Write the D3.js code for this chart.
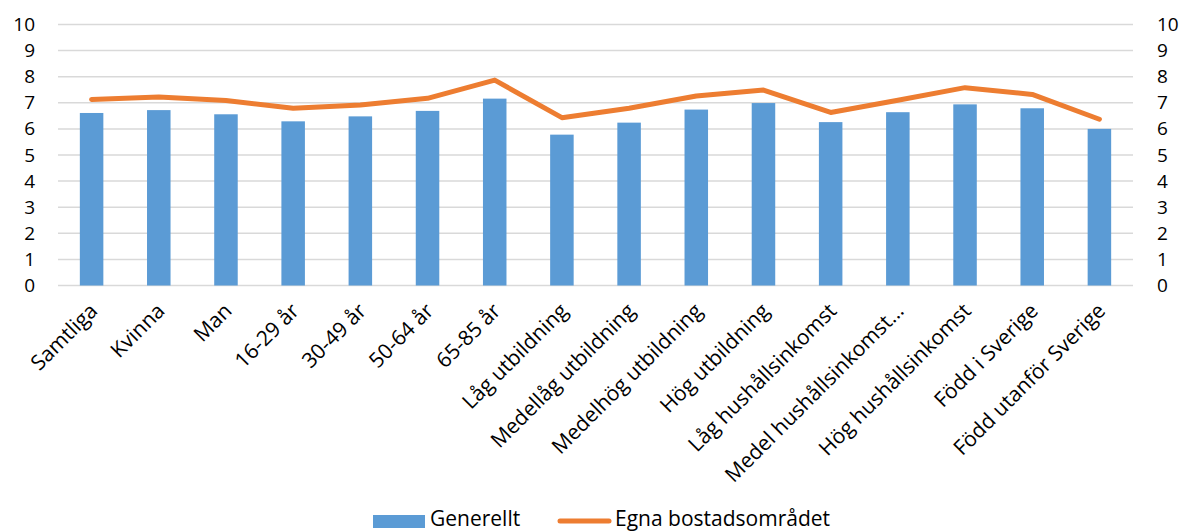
<!DOCTYPE html>
<html>
<head>
<meta charset="utf-8">
<script src="https://cdn.jsdelivr.net/npm/d3@7"></script>
<style>
  html, body { margin: 0; padding: 0; background: #fff; }
  svg { display: block; font-family: "Open Sans", sans-serif; }
</style>
</head>
<body>
<main></main>
<script>
const categories = [
  "Samtliga", "Kvinna", "Man", "16-29 år", "30-49 år", "50-64 år", "65-85 år",
  "Låg utbildning", "Medellåg utbildning", "Medelhög utbildning", "Hög utbildning",
  "Låg hushållsinkomst", "Medel hushållsinkomst…", "Hög hushållsinkomst",
  "Född i Sverige", "Född utanför Sverige"
];
const generellt = [6.61, 6.72, 6.56, 6.29, 6.48, 6.69, 7.16, 5.78, 6.24, 6.74, 6.99, 6.26, 6.64, 6.94, 6.79, 6.0];
const egnaOmradet = [7.13, 7.22, 7.09, 6.79, 6.92, 7.17, 7.87, 6.43, 6.79, 7.26, 7.49, 6.63, 7.1, 7.58, 7.32, 6.37];
const yTicks = [0, 1, 2, 3, 4, 5, 6, 7, 8, 9, 10];

const W = 1182, H = 531;
const BAR_COLOR = "#5B9BD5";
const LINE_COLOR = "#ED7D31";
const GRID_COLOR = "#D9D9D9";

const svg = d3.create("svg").attr("width", W).attr("height", H);

const x = d3.scaleBand().domain(categories).range([58, 1133]).paddingInner(0.65).paddingOuter(0.325);
const y = d3.scaleLinear().domain([0, 10]).range([285.5, 24.5]);

// Gridlines
svg.append("g")
  .selectAll("line")
  .data(yTicks)
  .join("line")
  .attr("x1", 58).attr("x2", 1133)
  .attr("y1", (d) => y(d)).attr("y2", (d) => y(d))
  .attr("stroke", GRID_COLOR)
  .attr("stroke-width", 1.5);

// Left and right axis labels
const leftAxis = svg.append("g")
  .attr("transform", "translate(48,0)")
  .call(d3.axisLeft(y).tickValues(yTicks).tickSize(0).tickPadding(13));
const rightAxis = svg.append("g")
  .attr("transform", "translate(1145,0)")
  .call(d3.axisRight(y).tickValues(yTicks).tickSize(0).tickPadding(12));
[leftAxis, rightAxis].forEach((a) => {
  a.select(".domain").remove();
  a.selectAll("text")
    .attr("font-family", "Open Sans, sans-serif")
    .attr("font-size", 19)
    .attr("fill", "#000");
});

// Bars
svg.append("g")
  .selectAll("rect")
  .data(categories)
  .join("rect")
  .attr("x", (d) => x(d))
  .attr("y", (d, i) => y(generellt[i]))
  .attr("width", x.bandwidth())
  .attr("height", (d, i) => y(0) - y(generellt[i]))
  .attr("fill", BAR_COLOR);

// Line
const line = d3.line()
  .x((d, i) => x(categories[i]) + x.bandwidth() / 2)
  .y((d) => y(d));
svg.append("path")
  .datum(egnaOmradet)
  .attr("d", line)
  .attr("fill", "none")
  .attr("stroke", LINE_COLOR)
  .attr("stroke-width", 5)
  .attr("stroke-linejoin", "round")
  .attr("stroke-linecap", "round");

// Category labels, rotated
svg.append("g")
  .selectAll("text")
  .data(categories)
  .join("text")
  .attr("transform", (d) => `translate(${x(d) + x.bandwidth() / 2 + 2},${307}) rotate(-45)`)
  .attr("text-anchor", "end")
  .attr("dy", "0.35em")
  .attr("font-size", 21)
  .attr("fill", "#000")
  .text((d) => d);

// Legend
const legend = svg.append("g");
legend.append("rect")
  .attr("x", 373).attr("y", 515).attr("width", 52).attr("height", 13)
  .attr("fill", BAR_COLOR);
legend.append("text")
  .attr("x", 430).attr("y", 526)
  .attr("font-size", 21)
  .text("Generellt");
legend.append("line")
  .attr("x1", 560).attr("x2", 609).attr("y1", 521).attr("y2", 521)
  .attr("stroke", LINE_COLOR).attr("stroke-width", 5).attr("stroke-linecap", "round");
legend.append("text")
  .attr("x", 615).attr("y", 526)
  .attr("font-size", 21)
  .text("Egna bostadsområdet");

document.querySelector("main").append(svg.node());
</script>
</body>
</html>
